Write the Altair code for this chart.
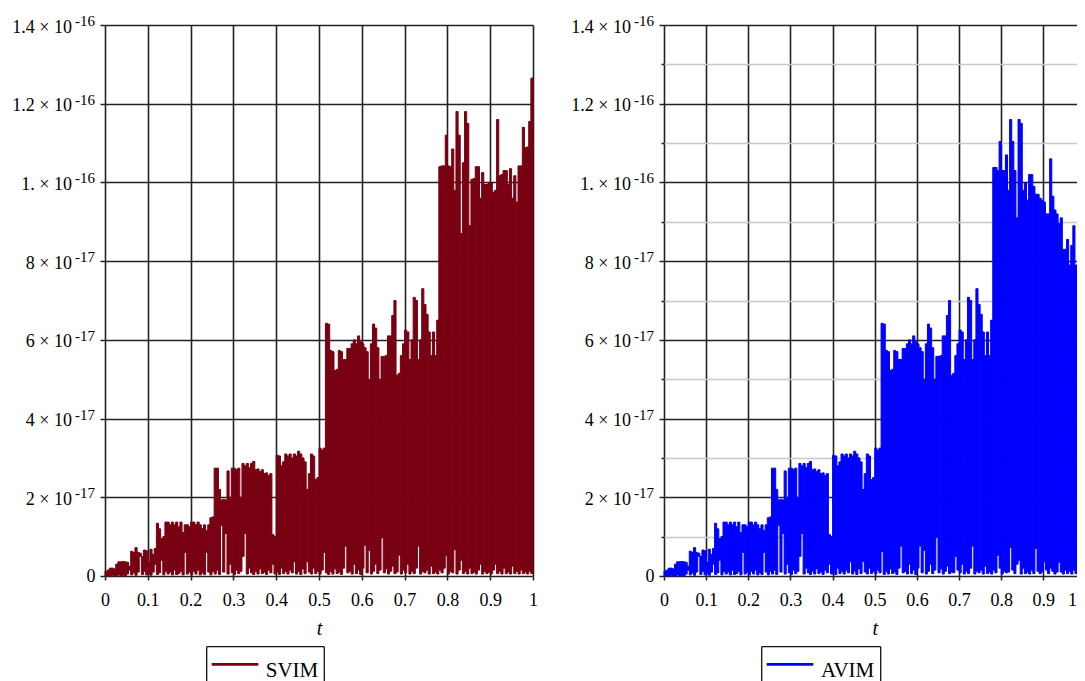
import altair as alt
import pandas as pd

FONT = "Liberation Serif"
# values are in units of 1e-17 (axis labels carry the scale)
N = 200
STEP = 0.005
t_left = [round(i * STEP, 3) for i in range(N)]
t_right = [round((i + 1) * STEP, 3) for i in range(N)]

svim_hi = [
    0.12, 0.15, 0.2, 0.2, 0.18, 0.3, 0.36, 0.36, 0.37, 0.36,
    0.35, 0.25, 0.63, 0.6, 0.72, 0.6, 0.58, 0.5, 0.66, 0.64,
    0.35, 0.68, 0.55, 0.7, 1.34, 1.2, 0.95, 1.0, 1.37, 1.37,
    1.3, 1.37, 1.3, 1.37, 1.25, 1.37, 1.1, 1.3, 1.3, 1.25,
    1.37, 1.37, 1.3, 1.37, 1.3, 1.2, 1.3, 1.15, 1.3, 1.48,
    1.5, 2.74, 2.74, 2.2, 1.93, 1.95, 1.93, 2.67, 2.0, 2.74,
    2.74, 2.7, 2.74, 2.0, 2.86, 2.8, 2.86, 2.75, 2.86, 2.91,
    2.7, 2.72, 2.65, 2.7, 2.6, 2.62, 2.55, 2.6, 1.05, 1.0,
    3.07, 3.05, 2.8, 2.9, 3.1, 3.05, 3.1, 3.0, 3.1, 3.05,
    3.17, 3.1, 3.0, 2.9, 2.2, 2.6, 3.1, 3.05, 2.45, 2.5,
    3.25, 3.2, 3.25, 6.42, 6.4, 5.73, 5.7, 5.22, 5.25, 5.73,
    5.7, 5.5, 5.5, 5.78, 5.78, 5.9, 6.0, 5.9, 6.1, 5.95,
    5.9, 5.8, 5.7, 5.0, 5.9, 6.4, 6.3, 5.8, 5.0, 5.58,
    5.58, 5.6, 6.1, 6.1, 6.62, 7.0, 5.1, 5.15, 5.6, 5.9,
    6.25, 6.2, 5.5, 6.0, 7.08, 7.0, 5.5, 6.0, 7.3, 6.9,
    6.65, 6.2, 5.6, 6.2, 5.6, 6.5, 10.4, 10.42, 10.42, 11.2,
    10.42, 10.4, 10.85, 9.8, 11.8, 11.2, 8.7, 10.5, 11.8, 11.5,
    8.9, 10.08, 10.1, 10.4, 10.4, 9.6, 10.25, 9.95, 9.95, 10.0,
    10.0, 9.75, 9.8, 11.6, 10.17, 10.2, 10.3, 10.3, 9.95, 10.35,
    9.6, 10.17, 9.5, 10.42, 10.42, 11.4, 10.88, 10.9, 11.55, 12.65,
]
svim_lo = [
    0, 0, 0, 0.02, 0, 0, 0.03, 0, 0.02, 0,
    0.05, 0.15, 0.03, 0.08, 0.02, 0.1, 0.5, 0.04, 0.12, 0.03,
    0.06, 0.02, 0.1, 0.3, 0.04, 0.08, 0.4, 0.03, 0.12, 0.05,
    0.1, 0.03, 0.15, 0.04, 0.06, 0.12, 0.03, 0.6, 0.05, 0.1,
    0.03, 0.12, 0.05, 0.15, 0.03, 0.08, 0.04, 0.6, 0.1, 0.03,
    0.12, 0.05, 0.15, 0.04, 1.29, 0.1, 1.08, 0.05, 0.3, 0.08,
    0.04, 0.15, 0.06, 0.12, 0.5, 1.08, 0.05, 0.2, 0.08, 0.04,
    0.12, 0.05, 0.18, 0.06, 0.1, 0.04, 0.15, 0.08, 0.3, 0.05,
    0.1, 0.04, 0.2, 0.06, 0.12, 0.05, 0.15, 0.08, 0.36, 0.05,
    0.12, 0.04, 0.18, 0.06, 0.36, 0.1, 0.05, 0.2, 0.06, 0.12,
    0.05, 0.15, 0.6, 0.08, 0.04, 0.12, 0.05, 0.18, 0.06, 0.1,
    0.04, 0.2, 0.76, 0.08, 0.12, 0.05, 0.3, 0.06, 0.15, 0.04,
    0.2, 0.78, 0.08, 0.65, 0.05, 0.12, 0.3, 0.06, 0.15, 0.97,
    0.08, 0.18, 0.05, 0.12, 0.25, 0.06, 0.1, 0.53, 0.05, 0.15,
    0.08, 0.3, 0.05, 0.12, 0.06, 0.2, 0.76, 0.05, 0.12, 0.08,
    0.15, 0.05, 0.25, 0.06, 0.1, 0.05, 0.15, 0.08, 0.2, 0.53,
    0.05, 0.12, 0.08, 0.67, 0.05, 0.15, 0.4, 0.06, 0.12, 0.05,
    0.2, 0.06, 0.1, 0.05, 0.15, 0.3, 0.05, 0.12, 0.06, 0.1,
    0.05, 0.15, 0.3, 0.06, 0.12, 0.05, 0.2, 0.06, 0.1, 0.05,
    0.25, 0.06, 0.12, 0.05, 0.15, 0.06, 0.1, 0.05, 0.12, 0.06,
]
avim_hi = [
    0.12, 0.15, 0.2, 0.2, 0.18, 0.3, 0.36, 0.36, 0.37, 0.36,
    0.35, 0.25, 0.63, 0.6, 0.72, 0.6, 0.58, 0.5, 0.66, 0.64,
    0.35, 0.68, 0.55, 0.7, 1.34, 1.2, 0.95, 1.0, 1.37, 1.37,
    1.3, 1.37, 1.3, 1.37, 1.25, 1.37, 1.1, 1.3, 1.3, 1.25,
    1.37, 1.37, 1.3, 1.37, 1.3, 1.2, 1.3, 1.15, 1.3, 1.48,
    1.5, 2.74, 2.74, 2.2, 1.93, 1.95, 1.93, 2.67, 2.0, 2.74,
    2.74, 2.7, 2.74, 2.0, 2.86, 2.8, 2.86, 2.75, 2.86, 2.91,
    2.7, 2.72, 2.65, 2.7, 2.6, 2.62, 2.55, 2.6, 1.05, 1.0,
    3.07, 3.05, 2.8, 2.9, 3.1, 3.05, 3.1, 3.0, 3.1, 3.05,
    3.17, 3.1, 3.0, 2.9, 2.2, 2.6, 3.1, 3.05, 2.45, 2.5,
    3.25, 3.2, 3.25, 6.42, 6.4, 5.73, 5.7, 5.22, 5.25, 5.73,
    5.7, 5.5, 5.5, 5.78, 5.78, 5.9, 6.0, 5.9, 6.1, 5.95,
    5.9, 5.8, 5.7, 5.0, 5.9, 6.4, 6.3, 5.8, 5.0, 5.58,
    5.58, 5.6, 6.1, 6.1, 6.62, 7.0, 5.1, 5.15, 5.6, 5.9,
    6.25, 6.2, 5.5, 6.0, 7.08, 7.0, 5.5, 6.0, 7.3, 6.9,
    6.65, 6.2, 5.6, 6.2, 5.6, 6.5, 10.38, 10.38, 10.3, 11.04,
    10.3, 10.3, 10.7, 9.8, 11.6, 11.04, 10.3, 9.1, 11.6, 11.5,
    9.8, 10.0, 9.55, 10.2, 10.2, 9.9, 9.7, 9.7, 9.6, 9.55,
    9.5, 9.2, 9.2, 10.6, 9.65, 9.3, 9.2, 8.95, 9.1, 8.3,
    8.3, 8.55, 7.9, 8.4, 8.9, 7.9, 7.9, 8.2, 8.2, 8.7,
]
avim_lo = [
    0, 0, 0, 0.02, 0, 0, 0.03, 0, 0.02, 0,
    0.05, 0.15, 0.03, 0.08, 0.02, 0.1, 0.5, 0.04, 0.12, 0.03,
    0.06, 0.02, 0.1, 0.3, 0.04, 0.08, 0.4, 0.03, 0.12, 0.05,
    0.1, 0.03, 0.15, 0.04, 0.06, 0.12, 0.03, 0.6, 0.05, 0.1,
    0.03, 0.12, 0.05, 0.15, 0.03, 0.08, 0.04, 0.6, 0.1, 0.03,
    0.12, 0.05, 0.15, 0.04, 1.29, 0.1, 1.08, 0.05, 0.3, 0.08,
    0.04, 0.15, 0.06, 0.12, 0.5, 1.08, 0.05, 0.2, 0.08, 0.04,
    0.12, 0.05, 0.18, 0.06, 0.1, 0.04, 0.15, 0.08, 0.3, 0.05,
    0.1, 0.04, 0.2, 0.06, 0.12, 0.05, 0.15, 0.08, 0.36, 0.05,
    0.12, 0.04, 0.18, 0.06, 0.37, 0.1, 0.05, 0.2, 0.06, 0.12,
    0.05, 0.15, 0.08, 0.62, 0.04, 0.12, 0.05, 0.18, 0.06, 0.1,
    0.04, 0.2, 0.76, 0.08, 0.12, 0.05, 0.3, 0.06, 0.15, 0.04,
    0.2, 0.76, 0.08, 0.65, 0.05, 0.12, 0.3, 0.06, 0.15, 0.98,
    0.08, 0.18, 0.05, 0.12, 0.25, 0.06, 0.1, 0.08, 0.5, 0.15,
    0.08, 0.3, 0.05, 0.12, 0.06, 0.2, 0.76, 0.05, 0.12, 0.08,
    0.15, 0.05, 0.25, 0.06, 0.1, 0.05, 0.15, 0.08, 0.53, 0.2,
    0.05, 0.12, 0.08, 0.1, 0.72, 0.15, 0.06, 0.3, 0.4, 0.05,
    0.2, 0.06, 0.1, 0.05, 0.15, 0.06, 0.7, 0.12, 0.06, 0.1,
    0.36, 0.15, 0.06, 0.2, 0.12, 0.05, 0.1, 0.35, 0.1, 0.05,
    0.15, 0.06, 0.12, 0.05, 0.15, 0.06, 0.56, 0.05, 0.12, 0.06,
]

x_ticks = [0, 0.1, 0.2, 0.3, 0.4, 0.5, 0.6, 0.7, 0.8, 0.9, 1]
y_major = [0, 2, 4, 6, 8, 10, 12, 14]
y_all = [0, 1, 2, 3, 4, 5, 6, 7, 8, 9, 10, 11, 12, 13, 14]
y_lab_vals = [2, 4, 6, 8, 10, 12, 14]
y_mant = ["2 × 10", "4 × 10", "6 × 10", "8 × 10", "1. × 10", "1.2 × 10", "1.4 × 10"]
y_exp = ["-17", "-17", "-17", "-17", "-16", "-16", "-16"]

GRID = "#222222"
MINOR = "#c8c8c8"
PLOT_H = 551


def panel(hi, lo, color, name, width, minor, leg):
    df = pd.DataFrame({"t0": t_left, "t1": t_right, "lo": lo, "hi": hi})
    xs = alt.Scale(domain=[0, 1], nice=False, zero=False)
    ys = alt.Scale(domain=[0, 14], nice=False)
    if minor:
        # right panel: minor grid, and last x label kept inside the visible page edge
        y_vals = y_all
        gcol = {"condition": {"test": "datum.value % 2 == 1", "value": MINOR}, "value": GRID}
        tsize = {"condition": {"test": "datum.value % 2 == 1", "value": 3}, "value": 5}
        lalign = {"condition": {"test": "datum.value == 1", "value": "right"}, "value": "center"}
        loffset = {"condition": {"test": "datum.value == 1", "value": -9}, "value": 0}
    else:
        y_vals = y_major
        gcol = GRID
        tsize = 5
        lalign = "center"
        loffset = 0
    x_axis = alt.Axis(values=x_ticks, format=".1~f", grid=True, gridColor=GRID, gridWidth=1.6,
                      domain=False, tickColor=GRID, tickWidth=1.5, tickSize=4,
                      labelFont=FONT, labelFontSize=18, labelColor="#000000", labelPadding=11,
                      labelFlush=False, labelOverlap=False, labelAlign=lalign,
                      labelOffset=loffset,
                      title="t", titleFont=FONT, titleFontSize=20,
                      titleFontStyle="italic", titleFontWeight="normal", titleColor="#000000",
                      titlePadding=9)
    y_axis = alt.Axis(values=y_vals, grid=True, gridColor=gcol, gridWidth=1.6, domain=False,
                      tickColor=GRID, tickWidth=1.5, tickSize=tsize,
                      labelExpr="datum.value == 0 ? '0' : ''", labelFont=FONT, labelFontSize=18,
                      labelColor="#000000", labelPadding=5, title=None)
    data_layer = alt.Chart(df).mark_rect(color=color, stroke=color, strokeWidth=1).encode(
        x=alt.X("t0:Q", scale=xs, axis=x_axis),
        x2="t1",
        y=alt.Y("lo:Q", scale=ys, axis=y_axis),
        y2="hi",
    )
    lab_df = pd.DataFrame({"v": y_lab_vals, "mant": y_mant, "exp": y_exp})
    mant = alt.Chart(lab_df).mark_text(align="right", baseline="middle", font=FONT, fontSize=18,
                                       color="#000000", dy=2.5).encode(
        x=alt.value(-33), y=alt.Y("v:Q", scale=ys, axis=y_axis), text="mant:N")
    expo = alt.Chart(lab_df).mark_text(align="left", baseline="middle", font=FONT, fontSize=15,
                                       color="#000000", dy=-4).encode(
        x=alt.value(-30), y=alt.Y("v:Q", scale=ys, axis=y_axis), text="exp:N")

    bx0, bx1, lx0, lx1, tx = leg
    leg_df = pd.DataFrame({"label": [name]})
    top_y, bot_y = 621.7, 662
    box_top = alt.Chart(leg_df).mark_rule(color="#111111", strokeWidth=1.3).encode(
        x=alt.value(bx0), x2=alt.value(bx1), y=alt.value(top_y))
    box_l = alt.Chart(leg_df).mark_rule(color="#111111", strokeWidth=1.3).encode(
        x=alt.value(bx0), y=alt.value(top_y), y2=alt.value(bot_y))
    box_r = alt.Chart(leg_df).mark_rule(color="#111111", strokeWidth=1.3).encode(
        x=alt.value(bx1), y=alt.value(top_y), y2=alt.value(bot_y))
    sample = alt.Chart(leg_df).mark_rule(color=color, strokeWidth=2.7).encode(
        x=alt.value(lx0), x2=alt.value(lx1), y=alt.value(639.3))
    txt = alt.Chart(leg_df).mark_text(align="left", baseline="alphabetic", font=FONT, fontSize=21,
                                      color="#000000").encode(
        x=alt.value(tx), y=alt.value(651.7), text="label:N")
    return alt.layer(data_layer, mant, expo, box_top, box_l, box_r, sample, txt).properties(
        width=width, height=PLOT_H)


left = panel(svim_hi, svim_lo, "#780012", "SVIM", 428, False,
             (101.7, 219.3, 106.7, 153.3, 160.7))
right = panel(avim_hi, avim_lo, "#0000ff", "AVIM", 421.5, True,
              (97.7, 216.7, 102.7, 149.3, 157.0))

# fixed canvas: 1069 x 673 (page minus body margins); left plot origin at (97, 17)
chart = alt.hconcat(left, right, spacing=131, bounds="flush").properties(
    autosize=alt.AutoSizeParams(type="none"),
    padding={"left": 97, "top": 17, "right": 972, "bottom": 656},
).configure_view(stroke=None).configure(background="white")

chart.save("out.html", embed_options={"renderer": "svg", "actions": False})
